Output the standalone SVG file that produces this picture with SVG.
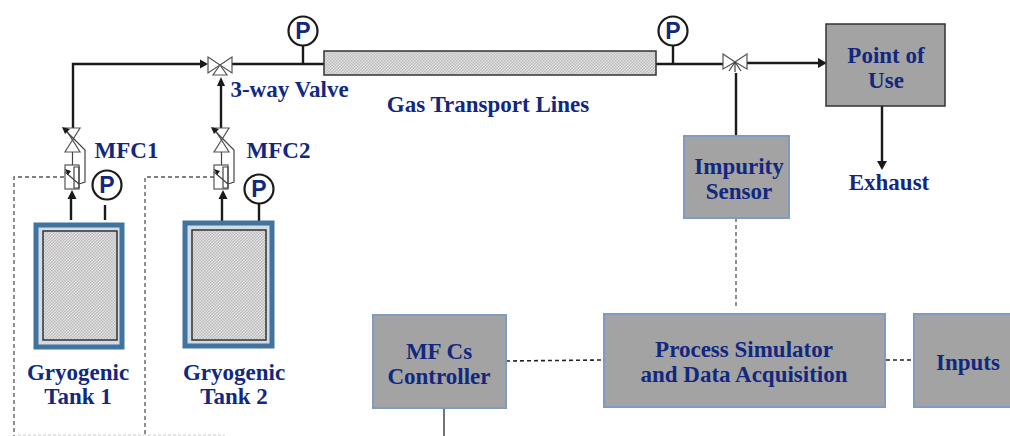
<svg xmlns="http://www.w3.org/2000/svg" width="1010" height="436" viewBox="0 0 1010 436">
<style>
text{font-family:"Liberation Serif",serif;font-weight:bold;fill:#12287f;font-size:23px;text-anchor:middle}
.p{font-family:"Liberation Sans",sans-serif;font-size:23px;fill:#12287f}
.pipe{fill:none;stroke:#1a1a1a;stroke-width:2.4}
.thin{fill:#fff;stroke:#555;stroke-width:1.2}
.thin2{fill:none;stroke:#444;stroke-width:1.2}
.dash{fill:none;stroke:#555;stroke-width:1.3;stroke-dasharray:4 3}
.dash2{fill:none;stroke:#222;stroke-width:1.6;stroke-dasharray:4 3}
.box{fill:#a3a3a3;stroke:#7f9cc0;stroke-width:2}
.gauge{fill:#fff;stroke:#1a1a1a;stroke-width:2.2}
.ah{fill:#1a1a1a}
</style>
<defs>
<pattern id="hatch" width="3" height="3" patternUnits="userSpaceOnUse"><rect width="3" height="3" fill="#e2e2e2"/><rect width="1.5" height="1.5" fill="#bdbdbd"/><rect x="1.5" y="1.5" width="1.5" height="1.5" fill="#bdbdbd"/></pattern>
</defs>
<g id="connectors">
<path class="pipe" d="M73 128V64H203"/><path class="ah" d="M208 64l-8-4.500v9z"/>
<path class="pipe" d="M232 64H324"/><path class="pipe" d="M303 46V64"/>
<path class="pipe" d="M221 128V84"/><path class="ah" d="M221 77l-4 9h8z"/>
<path class="pipe" d="M656 64H723"/><path class="pipe" d="M673 46V64"/>
<path class="pipe" d="M747 63H820"/><path class="ah" d="M827 63l-9-5v10z"/>
<path class="pipe" d="M736 73V136"/>
<path class="pipe" d="M882 106V163"/><path class="ah" d="M882 170l-5-9h10z"/>
<path class="pipe" d="M71 220V196"/><path class="ah" d="M72 190l-4.500 9h9z"/>
<path class="pipe" d="M105 205V220"/>
<path class="pipe" d="M222 221V196"/><path class="ah" d="M223 190l-4.500 9h9z"/>
<path class="pipe" d="M259 204V221"/>
<path class="thin2" d="M72.500 152V165M221.500 152V165"/>
<path class="dash" d="M64 177H14V436"/>
<path class="dash" d="M214 177H145V436"/>
<path class="dash" d="M736 218V306"/>
<path class="dash2" d="M506 361L604 360"/>
<path class="dash2" d="M886 360H914"/>
<path d="M444 408V436" fill="none" stroke="#444" stroke-width="1.5"/>
<path d="M18 435H225" fill="none" stroke="#ccc" stroke-width="1" stroke-dasharray="3 2"/>
</g>
<g id="valve-3way">
<path class="thin" d="M208 57L220 65L208 73Z"/><path class="thin" d="M232 57L220 65L232 73Z"/><path class="thin" d="M220 65L213 75H227Z"/>
</g>
<g id="valve-sensor">
<path class="thin" d="M723 54L735 62L723 69Z"/><path class="thin" d="M747 54L735 62L747 69Z"/><path class="thin2" d="M735 62L729 71M735 62L741 71M735 62V72"/>
</g>
<g id="transport-line"><rect x="324" y="51" width="332" height="24" fill="url(#hatch)" stroke="#333" stroke-width="1.5"/></g>
<g id="gauge-1"><circle class="gauge" cx="303" cy="31" r="14.500"/><text class="p" x="303" y="39">P</text></g>
<g id="gauge-2"><circle class="gauge" cx="673" cy="31" r="14.500"/><text class="p" x="673" y="39">P</text></g>
<g id="gauge-3"><circle class="gauge" cx="107" cy="185" r="14.500"/><text class="p" x="107" y="193">P</text></g>
<g id="gauge-4"><circle class="gauge" cx="259" cy="189" r="14.500"/><text class="p" x="259" y="197">P</text></g>
<g id="mfc-1">
<path class="thin" d="M65 128H80L72.500 140Z"/><path class="thin" d="M72.500 140L65 152H80Z"/>
<rect class="thin" x="65" y="165" width="14" height="24"/><path class="thin2" d="M74 167H79V188H74ZM65 172L79 184M63 128L85 150V182L79 184"/>
<path class="ah" d="M62 127l8 2-5 5z"/><path class="ah" d="M65 169l6 2-3 4z"/>
</g>
<g id="mfc-2">
<path class="thin" d="M214 128H229L221.500 140Z"/><path class="thin" d="M221.500 140L214 152H229Z"/>
<rect class="thin" x="214" y="165" width="14" height="24"/><path class="thin2" d="M223 167H228V188H223ZM214 172L228 184M212 128L234 150V182L228 184"/>
<path class="ah" d="M211 127l8 2-5 5z"/><path class="ah" d="M214 169l6 2-3 4z"/>
</g>
<g id="tank-1">
<rect x="36" y="225" width="86" height="122" fill="#d2dbe6" stroke="#41739f" stroke-width="5"/>
<rect x="43" y="231" width="74" height="109" fill="url(#hatch)" stroke="#333" stroke-width="1.5"/>
<text x="78" y="380">Gryogenic</text><text x="78" y="404">Tank 1</text>
</g>
<g id="tank-2">
<rect x="185" y="223" width="87" height="123" fill="#d2dbe6" stroke="#41739f" stroke-width="5"/>
<rect x="192" y="230" width="74" height="110" fill="url(#hatch)" stroke="#333" stroke-width="1.5"/>
<text x="234" y="380">Gryogenic</text><text x="234" y="404">Tank 2</text>
</g>
<g id="point-of-use"><rect x="826" y="24" width="119" height="82" fill="#a3a3a3" stroke="#333" stroke-width="1.500"/><text x="886" y="63">Point of</text><text x="886" y="88">Use</text></g>
<g id="impurity-sensor"><rect class="box" x="684" y="136" width="105" height="82"/><text x="739" y="174">Impurity</text><text x="739" y="199">Sensor</text></g>
<g id="mfcs-controller"><rect class="box" x="373" y="315" width="133" height="93"/><text x="439" y="359">MF Cs</text><text x="439" y="384">Controller</text></g>
<g id="process-simulator"><rect class="box" x="604" y="314" width="281" height="93"/><text x="744" y="357">Process Simulator</text><text x="744" y="382">and Data Acquisition</text></g>
<g id="inputs"><rect class="box" x="914" y="314" width="98" height="93"/><text x="968" y="370">Inputs</text></g>
<g id="labels">
<text x="126.500" y="158">MFC1</text><text x="278.500" y="158">MFC2</text>
<text x="289.500" y="97">3-way Valve</text><text x="488" y="112">Gas Transport Lines</text><text x="889" y="190">Exhaust</text>
</g>
</svg>
